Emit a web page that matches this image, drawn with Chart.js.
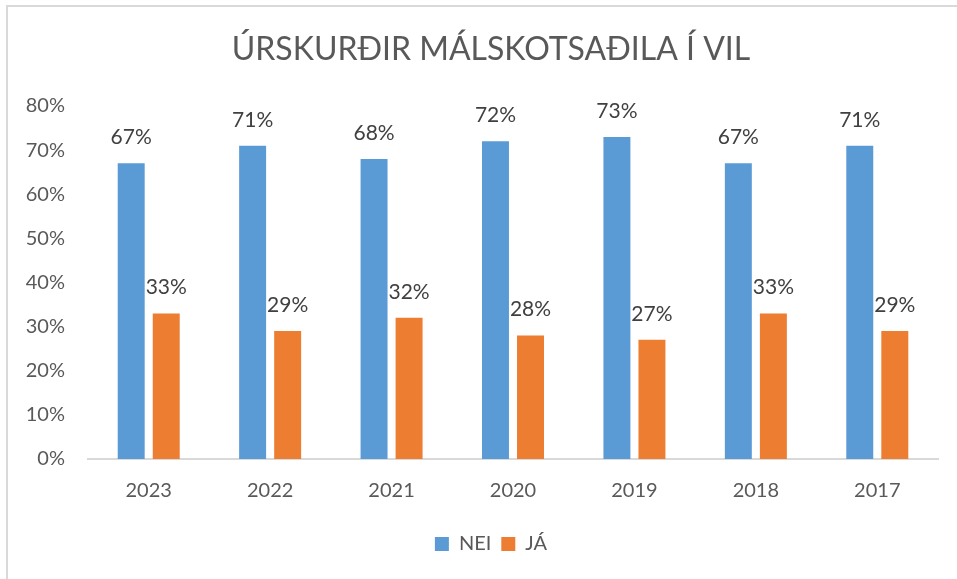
<!DOCTYPE html>
<html><head><meta charset="utf-8">
<script src="https://cdn.jsdelivr.net/npm/chart.js@4"></script>
<style>html,body{margin:0;padding:0;background:#fff;overflow:hidden;}#wrap{position:relative;width:957px;height:579px;}</style>
</head><body><div id="wrap"><canvas id="c" width="957" height="579"></canvas></div>
<script>
const titleText = 'ÚRSKURÐIR MÁLSKOTSAÐILA Í VIL';
const categories = ['2023','2022','2021','2020','2019','2018','2017'];
const seriesNames = ['NEI','JÁ'];
const neiValues = [67,71,68,72,73,67,71];
const jaValues = [33,29,32,28,27,33,29];
const yMin = 0, yMax = 80, yStep = 10;

const FONT = 'Lato, "Open Sans", sans-serif';
const TEXT = '#595959';
const CENTER_SHIFT = 18;

const borderPlugin = {
  id: 'frame',
  beforeDraw(chart) {
    const ctx = chart.ctx;
    ctx.save();
    ctx.fillStyle = '#fff';
    ctx.fillRect(0, 0, chart.width, chart.height);
    ctx.fillStyle = '#d9d9d9';
    ctx.fillRect(6, 5, chart.width - 6, 2);
    ctx.fillRect(6, 5, 2, chart.height - 5);
    ctx.restore();
    [chart.titleBlock, chart.legend].forEach(b => {
      if (b && !b._shifted) { b.left += CENTER_SHIFT; b.right += CENTER_SHIFT; b._shifted = true; }
    });
  }
};

const labelPlugin = {
  id: 'valueLabels',
  afterDatasetsDraw(chart) {
    const ctx = chart.ctx;
    ctx.save();
    ctx.font = '21px ' + FONT;
    ctx.fillStyle = '#404040';
    ctx.textAlign = 'center';
    ctx.textBaseline = 'alphabetic';
    chart.data.datasets.forEach((ds, di) => {
      const meta = chart.getDatasetMeta(di);
      meta.data.forEach((el, i) => {
        ctx.fillText(ds.data[i] + '%', el.x, el.y - 19);
      });
    });
    ctx.restore();
  }
};

new Chart(document.getElementById('c'), {
  type: 'bar',
  data: {
    labels: categories,
    datasets: [
      { label: seriesNames[0], data: neiValues, backgroundColor: '#5B9BD5', borderWidth: 0,
        categoryPercentage: 0.577, barPercentage: 0.77 },
      { label: seriesNames[1], data: jaValues, backgroundColor: '#ED7D31', borderWidth: 0,
        categoryPercentage: 0.577, barPercentage: 0.77 }
    ]
  },
  options: {
    responsive: false,
    devicePixelRatio: 1,
    animation: false,
    layout: { padding: { left: 8, right: 19, top: 8, bottom: 15 } },
    plugins: {
      title: {
        display: true, text: titleText, color: TEXT,
        font: { family: FONT, size: 32, weight: 'normal' },
        padding: { top: 22, bottom: 37.6 }
      },
      legend: {
        position: 'bottom',
        labels: {
          color: TEXT, boxWidth: 14, boxHeight: 14, padding: 10,
          font: { family: FONT, size: 20 }
        }
      },
      tooltip: { enabled: false }
    },
    scales: {
      x: {
        grid: { display: false, drawTicks: false },
        border: { display: true, color: '#d9d9d9', width: 2 },
        ticks: { color: TEXT, font: { family: FONT, size: 20 }, padding: 20 },
        afterFit(s) { s.height = 65; }
      },
      y: {
        min: yMin, max: yMax,
        grid: { display: false, drawTicks: false },
        border: { display: false },
        ticks: { stepSize: yStep, color: TEXT, font: { family: FONT, size: 20 }, padding: 23,
          callback: v => v + '%' },
        afterFit(s) { s.width = 80; }
      }
    }
  },
  plugins: [borderPlugin, labelPlugin]
});
</script></body></html>
